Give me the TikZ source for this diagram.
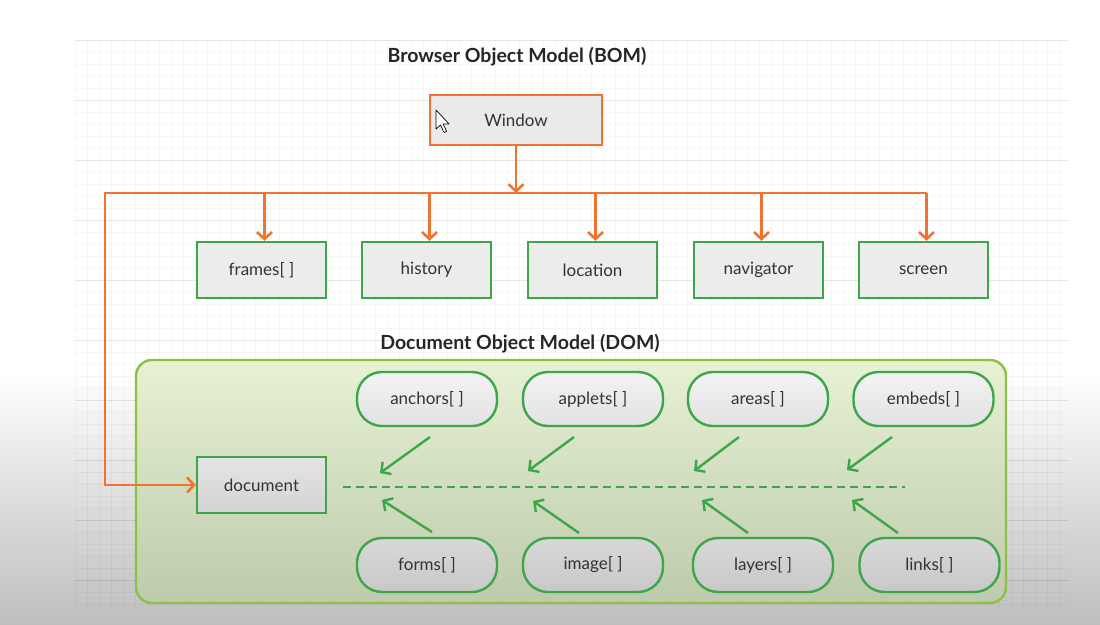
\documentclass[tikz,border=0pt]{standalone}
\usepackage{fontspec}
\setmainfont{Lato}
\usetikzlibrary{arrows.meta,calc}

\definecolor{bomorange}{HTML}{F07431}
\definecolor{boxgreen}{HTML}{3DA54A}
\definecolor{domedge}{HTML}{8DC043}
\definecolor{txt}{HTML}{333333}

\begin{document}
\begin{tikzpicture}[x=1pt,y=-1pt,
  every node/.style={text=txt, font=\fontsize{17}{20}\selectfont},
  heading/.style={font=\bfseries\fontsize{19.5}{23}\selectfont, text=black!85},
  winbox/.style={rectangle, draw=bomorange, line width=2.4pt, fill={rgb,255:red,234;green,234;blue,234},
    minimum width=172pt, minimum height=50pt},
  propbox/.style={rectangle, draw=boxgreen, line width=2.4pt, fill={rgb,255:red,236;green,236;blue,236},
    minimum width=129pt, minimum height=56pt},
  docbox/.style={rectangle, draw=boxgreen, line width=2.4pt, top color={rgb,255:red,228;green,228;blue,228},
    bottom color={rgb,255:red,212;green,212;blue,212}, minimum width=129pt, minimum height=56pt},
  pilltop/.style={rectangle, rounded corners=25pt, draw=boxgreen, line width=2.4pt,
    top color={rgb,255:red,243;green,243;blue,243}, bottom color={rgb,255:red,226;green,226;blue,226},
    minimum width=140pt, minimum height=54pt},
  pillbot/.style={rectangle, rounded corners=25pt, draw=boxgreen, line width=2.4pt,
    top color={rgb,255:red,216;green,216;blue,216}, bottom color={rgb,255:red,200;green,200;blue,200},
    minimum width=140pt, minimum height=54pt},
  dombox/.style={rectangle, rounded corners=16pt, draw=domedge, line width=2.4pt,
    top color={rgb,255:red,231;green,242;blue,212}, bottom color={rgb,255:red,190;green,202;blue,172},
    minimum width=870pt, minimum height=243pt},
  bomlink/.style={draw=bomorange, line width=2.6pt, -{Straight Barb[length=7pt,width=15pt,line width=2.6pt]}},
  domlink/.style={draw=boxgreen, line width=2.4pt, -{Straight Barb[length=7pt,width=15pt,line width=2.4pt]}},
  busline/.style={draw=boxgreen, line width=2.4pt, dash pattern=on 8pt off 5pt},
  gridfine/.style={draw=black, draw opacity=0.035, line width=0.7pt},
  gridbold/.style={draw=black, draw opacity=0.06, line width=0.9pt},
]
\useasboundingbox (0,0) rectangle (1100,624);

% page background with the darker band towards the bottom
\fill[white] (0,0) rectangle (1100,624);
\shade[top color=white, bottom color={rgb,255:red,190;green,190;blue,190}] (0,372) rectangle (1100,624);

% drawing-canvas grid
\foreach \gx in {75,87,...,1068}
  \draw[gridfine] (\gx,40) -- (\gx,612);
\foreach \gy in {40,52,...,612}
  \draw[gridfine] (75,\gy) -- (1068,\gy);
\foreach \gy in {40,100,...,612}
  \draw[gridbold] (75,\gy) -- (1068,\gy);

% headings
\node[heading] (bomtitle) at (517,57) {Browser Object Model (BOM)};
\node[heading] (domtitle) at (520,344) {Document Object Model (DOM)};

% DOM container
\node[dombox] (dom) at (571,481.5) {};

% BOM objects
\node[winbox] (window) at (516,120) {Window};
\node[propbox] (frames)    at (261.5,270) {frames[ ]};
\node[propbox] (history)   at (426.5,270) {history};
\node[propbox] (location)  at (592.5,270) {location};
\node[propbox] (navigator) at (758.5,270) {navigator};
\node[propbox] (screen)    at (923.5,270) {screen};

% DOM objects
\node[docbox] (document) at (261.5,485) {document};
\node[pilltop] (anchors) at (427,399) {anchors[ ]};
\node[pilltop] (applets) at (593,399) {applets[ ]};
\node[pilltop] (areas)   at (758,399) {areas[ ]};
\node[pilltop] (embeds)  at (923.5,399) {embeds[ ]};
\node[pillbot] (forms)   at (427,565) {forms[ ]};
\node[pillbot] (image)   at (593,565) {image[ ]};
\node[pillbot] (layers)  at (763,565) {layers[ ]};
\node[pillbot] (links)   at (929.5,565) {links[ ]};

% mouse pointer resting on the Window box
\draw[fill=white, draw=black, line width=0.7pt, line join=round]
  (436,110) -- ++(0,19) -- ++(4.5,-4) -- ++(3.5,7.5) -- ++(2.6,-1.2)
  -- ++(-3.5,-7.3) -- ++(6,0) -- cycle;

% BOM tree: Window down to the distribution bar, then one drop per property
\foreach \child in {frames,history,location,navigator,screen}
  \coordinate (in-\child) at ([xshift=3pt]\child.north);
\coordinate (barL) at (105,193);
\coordinate (barR) at (in-screen |- barL);
\draw[bomlink] (window.south) -- (window.south |- barL);
\draw[bomlink, line join=miter] (barR) -- (barL) |- (document.west);
\foreach \child in {frames,history,location,navigator,screen}
  \draw[bomlink] (in-\child |- barL) -- (in-\child);

% DOM collections feeding the document bus
\coordinate (busL) at (343,487);
\coordinate (busR) at (905,487);
\draw[busline] (busL) -- (busR);

\foreach \sx/\sy/\ex/\ey in {430/437/380/473, 574/437/528/471, 739/437/694/471, 892/437/847/470,
                              432/532/382/500, 579/533/533/501, 748/533/702/500, 898/533/852/500}{
  \coordinate (fromc) at (\sx,\sy);
  \coordinate (toc) at (\ex,\ey);
  \draw[domlink] (fromc) -- (toc);
}
\end{tikzpicture}
\end{document}
